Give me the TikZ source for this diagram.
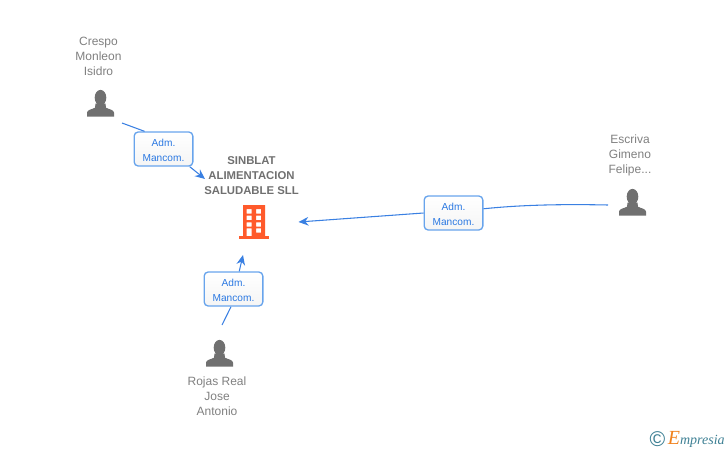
\documentclass[tikz,border=0pt]{standalone}
\usepackage{fontspec}
\setmainfont{Liberation Sans}
\newfontfamily\logofont{Liberation Serif}
\definecolor{linkblue}{RGB}{58, 128, 226}
\definecolor{boxblue}{RGB}{104, 164, 236}
\definecolor{textblue}{RGB}{42, 120, 226}
\definecolor{persongray}{RGB}{112, 112, 112}
\definecolor{labelgray}{RGB}{128, 128, 128}
\definecolor{firmorange}{RGB}{255, 90, 43}
\definecolor{logoteal}{RGB}{62, 128, 148}
\definecolor{logoorange}{RGB}{240, 130, 30}
\usetikzlibrary{arrows.meta, positioning}
\newcommand{\rolelines}{\rule{0pt}{7pt}Adm.\\Mancom.}
\tikzset{
  personlabel/.style={text=labelgray, align=center, inner sep=0pt, font=\fontsize{9}{11.25}\selectfont},
  firmlabel/.style={text=persongray, align=center, inner sep=0pt, font=\fontsize{8.5}{11.25}\selectfont\bfseries},
  rolebox/.style={draw=boxblue, line width=1pt, rounded corners=3pt, top color=white, bottom color=black!4,
    minimum width=44pt, minimum height=25.5pt, inner sep=0pt, align=center, text=textblue,
    font=\fontsize{7.6}{11.25}\selectfont},
  link/.style={draw=linkblue, line width=0.8pt},
  linkhead/.style={link, -{Stealth[length=7.5pt, width=6.5pt]}},
  personicon/.pic={
    \fill[persongray] (0,-19) ellipse (5.8 and 7.8);
    \fill[persongray] (-13.5,0) -- (-13.5,-4) .. controls (-13.5,-7) and (-8,-7.5) .. (-5.5,-9) -- (-5,-13)
      -- (5,-13) -- (5.5,-9) .. controls (8,-7.5) and (13.5,-7) .. (13.5,-4) -- (13.5,0) -- cycle;
  },
  buildingicon/.pic={
    \fill[firmorange] (-15.5,0) rectangle (15,-2.7);
    \fill[firmorange, even odd rule] (-11,-1) rectangle (11,-33.5)
      (-7.5,-29.5) rectangle (-2.5,-25.2) (2,-29.5) rectangle (7,-25.2)
      (-7.5,-23) rectangle (-2.5,-18.7) (2,-23) rectangle (7,-18.7)
      (-7.5,-16.4) rectangle (-2.5,-12) (2,-16.4) rectangle (7,-12)
      (-7.5,-10.4) rectangle (-2.5,-2) (2,-10.4) rectangle (7,-6);
  }
}
\begin{document}
\begin{tikzpicture}[x=0.75pt, y=-0.75pt]
  \useasboundingbox (0,0) rectangle (728,450);

  % people
  \node[personlabel] (crespo) at (98.5,56) {Crespo\\Monleon\\Isidro};
  \pic at (100.5,116.7) {personicon};
  \node[personlabel] (escriva) at (630,155) {Escriva\\Gimeno\\Felipe...};
  \pic at (632.5,215.7) {personicon};
  \node[personlabel] (rojas) at (217,396) {Rojas Real\\Jose\\Antonio};
  \pic at (219.5,366.7) {personicon};

  % company
  \node[firmlabel] (sinblat) at (251.5,176) {SINBLAT\\ALIMENTACION\\SALUDABLE SLL};
  \pic at (254,238.7) {buildingicon};

  % role boxes
  \node[rolebox] (crespobox) at (163.5,149) {\rolelines};
  \node[rolebox] (escrivabox) at (453.5,213) {\rolelines};
  \node[rolebox] (rojasbox) at (233.5,289) {\rolelines};

  % free ends
  \coordinate (crespofrom) at (122,123);
  \coordinate (crespoto) at (205,179);
  \coordinate (escrivafrom) at (608,205);
  \coordinate (escrivato) at (298.5,222);
  \coordinate (rojasfrom) at (222,325);
  \coordinate (rojasto) at (243,255);

  % connectors
  \draw[link] (crespofrom) -- (crespobox.137);
  \draw[linkhead] (crespobox.-34) -- (crespoto);
  \draw[link] (escrivafrom) .. controls (560,204) and (520,205) .. (escrivabox.8);
  \draw[linkhead] (escrivabox.180) -- (escrivato);
  \draw[link] (rojasfrom) -- (rojasbox.262);
  \draw[linkhead] (rojasbox.72) -- (rojasto);

  % logo
  \node[text=logoteal, inner sep=0pt, font=\fontsize{16}{16}\selectfont] (copyright) at (657.5,439) {©};
  \node[right=1.5pt of copyright, inner sep=0pt, text=logoteal, font=\logofont\itshape\fontsize{10.5}{12}\selectfont] (empresia)
    {\textcolor{logoorange}{\fontsize{15}{15}\selectfont E}mpresia};
\end{tikzpicture}
\end{document}
